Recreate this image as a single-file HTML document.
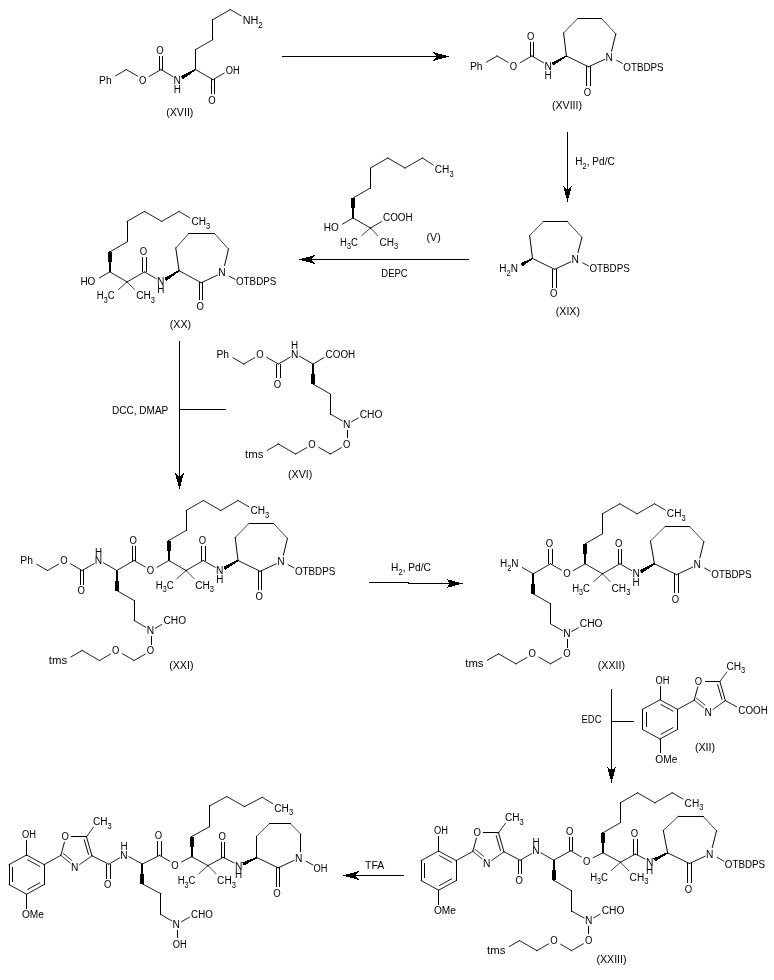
<!DOCTYPE html>
<html lang="en"><head><meta charset="utf-8"><title>Reaction scheme</title>
<style>
html,body{margin:0;padding:0;background:#fff}
body{width:774px;height:980px;overflow:hidden}
svg{display:block}
.b{stroke:#000;fill:none;stroke-linecap:square;shape-rendering:crispEdges}
.w{fill:#000;stroke:none;shape-rendering:crispEdges}
text{font-family:"Liberation Sans",sans-serif;font-size:11px;fill:#000}
.t{filter:grayscale(1)}
.s{font-size:8.2px}
</style></head>
<body>
<svg width="774" height="980" viewBox="0 0 774 980">
<rect width="774" height="980" fill="#fff"/>
<g class="b">
<path stroke-width="0.71" d="M370.42 228L377.86 235.6M127.12 281.9L134.52 289.46M186.08 570.5L194.01 578.6M602.48 573.8L610.02 581.5M650.44 541L665.04 526.6M620.5 862.3L628.43 870.4M208 865.6L215.93 873.7M290.2 823.6L300.9 834.3"/>
<path stroke-width="0.72" d="M563.6 33L577.4 18.8M529.7 235.5L543.5 221.3M235.24 537.5L249.04 523.3M256.5 836.2L269.5 823.6"/>
<path stroke-width="0.73" d="M601.8 18.8L615.8 33.9M273.44 523.3L287.44 538.4M689.84 526.6L703.84 541.7M663.3 830.4L678.5 816.2"/>
<path stroke-width="0.74" d="M567.2 221.3L581.9 237.5M175.78 248.1L188.78 233.6M214.48 233.6L228.48 249M703 816.2L716.5 830.9"/>
<path stroke-width="0.75" d="M370.42 228L361.81 235.6M127.12 281.9L118.52 289.49M186.08 570.5L176.9 578.6M602.48 573.8L593.76 581.5M620.5 862.3L611.32 870.4M208 865.6L198.82 873.7"/>
<path stroke-width="0.78" d="M703.5 707.63L694.2 700.2M704.91 704.91L696.54 698.23M482.1 858.83L472.8 851.4M483.51 856.11L475.14 849.43M70.1 862.83L60.8 855.4M71.51 860.11L63.14 853.43"/>
<path stroke-width="0.81" d="M719.9 681.6L726.83 672M498.5 832.8L505.43 823.2M86.5 836.8L93.43 827.2"/>
<path stroke-width="0.82" d="M725.4 700.6L713.1 709.28M504 851.8L491.7 860.48M92 855.8L79.7 864.48"/>
<path stroke-width="0.84" d="M422.38 158L433.1 164.93M179.08 270.7L165.36 279.57"/>
<path stroke-width="0.85" d="M262.2 797.3L272.6 803.66"/>
<path stroke-width="0.86" d="M179.08 211.4L189.8 217.9M541 852.84L553.6 860.2M570.8 850.8L581.2 856.87M553.6 880.2L571.5 890.8M108.7 864.2L119.4 857.9M160.8 914.4L171.7 920.87"/>
<path stroke-width="0.87" d="M195.6 69.6L181.88 77.52M172.68 76.37L160.96 69.6M160.96 69.6L149.34 76.31M137.24 75.9L126.32 69.6M126.32 69.6L115.6 75.79M195.6 69.6L212.92 79.6M212.92 79.6L224.04 73.18M195.6 49.6L212.92 39.6M212.92 19.6L230.24 9.6M230.24 9.6L240.96 15.79M566.4 56L552.68 63.92M543.48 62.77L531.76 56"/>
<path stroke-width="0.87" d="M531.76 56L520.14 62.71M508.04 62.3L497.12 56M497.12 56L486.4 62.19M532.5 258.5L521.38 264.92M353.1 198L370.42 188M370.42 168L387.74 158M387.74 158L405.06 168M405.06 168L422.38 158M353.1 218L342.58 224.07M353.1 218L370.42 228M370.42 228L381.34 221.7M109.8 251.9L127.12 241.9"/>
<path stroke-width="0.87" d="M127.12 221.4L144.44 211.4M144.44 211.4L161.76 221.4M161.76 221.4L179.08 211.4M109.8 271.9L99.28 277.97M109.8 271.9L127.12 281.9M127.12 281.9L144.44 271.9M144.44 271.9L156.16 278.67M313 364L299.68 356.31M290.08 357.23L278.36 364M278.36 364L266.74 357.29M254.64 357.7L243.72 364M243.72 364L233 357.81"/>
<path stroke-width="0.87" d="M313 364L323.92 357.7M313 384L330.32 394M330.32 414L342.04 420.77M351.64 421.69L357.96 418.04M341.24 447.7L330.32 454M330.32 454L318.7 447.29M306.6 447.7L295.68 454M295.68 454L278.36 444M278.36 444L267.24 450.42M116.8 570.5L103.48 562.81M93.88 563.73L82.16 570.5M82.16 570.5L70.54 563.79"/>
<path stroke-width="0.87" d="M58.44 564.2L47.52 570.5M47.52 570.5L36.8 564.31M116.8 570.5L134.12 560.5M134.12 560.5L145.04 566.8M157.14 567.21L168.76 560.5M168.76 540.5L186.08 530.5M186.08 510.5L203.4 500.5M203.4 500.5L220.72 510.5M220.72 510.5L238.04 500.5M238.04 500.5L248.76 506.69M168.76 560.5L186.08 570.5M186.08 570.5L203.4 560.5"/>
<path stroke-width="0.87" d="M203.4 560.5L215.12 567.27M238.04 560.5L224.32 568.42M116.8 590.5L134.12 600.5M134.12 620.5L145.84 627.27M155.44 628.19L161.76 624.54M145.04 654.2L134.12 660.5M134.12 660.5L122.5 653.79M110.4 654.2L99.48 660.5M99.48 660.5L82.16 650.5M82.16 650.5L71.04 656.92M533.2 573.8L522.48 567.61M533.2 573.8L550.52 563.8"/>
<path stroke-width="0.87" d="M550.52 563.8L561.44 570.1M573.54 570.51L585.16 563.8M585.16 543.8L602.48 533.8M602.48 513.8L619.8 503.8M619.8 503.8L637.12 513.8M637.12 513.8L654.44 503.8M654.44 503.8L665.16 509.99M585.16 563.8L602.48 573.8M602.48 573.8L619.8 563.8M619.8 563.8L631.52 570.57M654.44 563.8L640.72 571.72M533.2 593.8L550.52 603.8"/>
<path stroke-width="0.87" d="M550.52 623.8L562.24 630.57M571.84 631.49L578.16 627.84M561.44 657.5L550.52 663.8M550.52 663.8L538.9 657.09M526.8 657.5L515.88 663.8M515.88 663.8L498.56 653.8M498.56 653.8L487.44 660.22M520.2 860.2L531.4 853.73M602.9 832.8L620.22 822.8M620.22 802.8L637.54 792.8M637.54 792.8L654.86 802.8M654.86 802.8L672.18 792.8"/>
<path stroke-width="0.87" d="M672.18 792.8L682.9 798.99M620.5 862.3L635.4 854M717.2 857.38L723.7 861.06M593.7 917.83L600.02 914.18M583.3 943.83L571.58 950.6M571.58 950.6L560.76 944.35M548.66 943.83L536.94 950.6M536.94 950.6L519.62 940.6M519.62 940.6L509.3 946.56M159.5 855.4L169.6 861.15M226.8 796.5L244.5 806.6M181.3 921.89L189.42 917.2"/>
<path stroke-width="0.88" d="M616.7 60.35L622.2 63.36M582.8 262.85L588.3 265.86M201.18 282.7L179.08 270.7M229.38 276.25L234.88 279.26M288.34 564.85L293.84 567.86M704.74 568.15L710.24 571.16M660 699.8L677.55 709.4M661.03 704.58L672.97 711.11M677.55 729.4L660 739M672.97 727.69L661.03 734.22M660 739L642.45 729.4M642.45 709.4L660 699.8"/>
<path stroke-width="0.88" d="M677.55 709.4L694.2 700.2M725.4 700.6L736.6 706.77M438.6 851L456.15 860.6M439.63 855.78L451.57 862.31M456.15 880.6L438.6 890.2M451.57 878.89L439.63 885.42M438.6 890.2L421.05 880.6M421.05 860.6L438.6 851M456.15 860.6L472.8 851.4M553.6 860.2L570.8 850.8M602.9 852.8L620.5 862.3M667.6 852.8L654.2 859.89"/>
<path stroke-width="0.88" d="M571.5 911L584.1 917.95M26.6 855L44.15 864.6M27.63 859.78L39.57 866.31M44.15 884.6L26.6 894.2M39.57 882.89L27.63 889.42M26.6 894.2L9.05 884.6M9.05 864.6L26.6 855M44.15 864.6L60.8 855.4M129 856.76L142.4 864M191.7 836.5L209.6 826.7M209.6 805.9L226.8 796.5M191.7 856.7L208 865.6"/>
<path stroke-width="0.88" d="M208 865.6L223.2 857.4M306.2 861.33L312.9 864.97M142.4 883.9L160.8 893.7"/>
<path stroke-width="0.89" d="M504 851.8L520.2 860.2M593.3 857.69L602.9 852.8M635.4 854L645 858.93M92 855.8L108.7 864.2M142.4 864L159.5 855.4M181.7 861.86L191.7 856.7M244.5 806.6L262.2 797.3M223.2 857.4L234 862.87"/>
<path stroke-width="0.9" d="M588.5 66.8L566.4 56M554.6 269.3L532.5 258.5M260.14 571.3L238.04 560.5M676.54 574.6L654.44 563.8M689.5 863.5L667.6 852.8M278.2 867.8L256.9 857.6"/>
<path stroke-width="0.91" d="M604.6 59.38L588.5 66.8M570.7 261.88L554.6 269.3M217.28 275.28L201.18 282.7M276.24 563.88L260.14 571.3M692.64 567.18L676.54 574.6M705.1 856.29L689.5 863.5M256.9 857.6L243.2 864.01M294.1 860.4L278.2 867.8"/>
<path stroke-width="0.96" d="M694.2 700.2L697.79 687.2M719.9 681.6L725.4 700.6M717.68 684.71L721.86 699.15M472.8 851.4L476.39 838.4M498.5 832.8L504 851.8M496.28 835.91L500.46 850.35M60.8 855.4L64.39 842.4M86.5 836.8L92 855.8M84.28 839.91L88.46 854.35"/>
<path stroke-width="0.97" d="M615.8 33.9L611.59 51.1M581.9 237.5L578 252.7M228.48 249L224.58 265.5M287.44 538.4L283.36 555.1M703.84 541.7L699.85 558M716.5 830.9L712.28 847.5"/>
<path stroke-width="0.98" d="M654.44 563.8L650.44 541M667.6 852.8L663.3 830.4"/>
<path stroke-width="0.99" d="M566.4 56L563.6 33M532.5 258.5L529.7 235.5M179.08 270.7L175.78 248.1M238.04 560.5L235.24 537.5"/>
<path stroke-width="1" d="M159.21 69.6L159.21 56.3M162.71 69.6L162.71 56.3M214.67 79.6L214.67 93.9M211.17 79.6L211.17 93.9M195.6 69.6L195.6 49.6M212.92 39.6L212.92 19.6M530.01 56L530.01 42.7M533.51 56L533.51 42.7M577.4 18.8L601.8 18.8M590.25 66.8L590.25 85.5M586.75 66.8L586.75 85.5M543.5 221.3L567.2 221.3"/>
<path stroke-width="1" d="M556.35 269.3L556.35 287.1M552.85 269.3L552.85 287.1M353.1 218L353.1 198M370.42 188L370.42 168M109.8 271.9L109.8 251.9M127.12 241.9L127.12 221.4M142.69 271.9L142.69 257.1M146.19 271.9L146.19 257.1M188.78 233.6L214.48 233.6M202.93 282.7L202.93 299.9M199.43 282.7L199.43 299.9M280.11 364L280.11 377.8"/>
<path stroke-width="1" d="M276.61 364L276.61 377.8M313 364L313 384M330.32 394L330.32 414M347.64 430.2L347.64 437.8M83.91 570.5L83.91 584.3M80.41 570.5L80.41 584.3M132.37 560.5L132.37 546.7M135.87 560.5L135.87 546.7M168.76 560.5L168.76 540.5M186.08 530.5L186.08 510.5M201.65 560.5L201.65 546.7M205.15 560.5L205.15 546.7"/>
<path stroke-width="1" d="M249.04 523.3L273.44 523.3M261.89 571.3L261.89 589.5M258.39 571.3L258.39 589.5M116.8 570.5L116.8 590.5M134.12 600.5L134.12 620.5M151.44 636.7L151.44 644.3M548.77 563.8L548.77 549.6M552.27 563.8L552.27 549.6M585.16 563.8L585.16 543.8M602.48 533.8L602.48 513.8M618.05 563.8L618.05 549.6M621.55 563.8L621.55 549.6"/>
<path stroke-width="1" d="M665.04 526.6L689.84 526.6M678.29 574.6L678.29 592.4M674.79 574.6L674.79 592.4M533.2 573.8L533.2 593.8M550.52 603.8L550.52 623.8M567.84 639.6L567.84 647.2M677.55 709.4L677.55 729.4M642.45 729.4L642.45 709.4M646.15 726.2L646.15 712.6M660 699.8L660 686M660 739L660 752.8M705.2 681.17L719.9 681.6"/>
<path stroke-width="1" d="M456.15 860.6L456.15 880.6M421.05 880.6L421.05 860.6M424.75 877.4L424.75 863.8M438.6 851L438.6 836.4M438.6 890.2L438.6 904M483.8 832.37L498.5 832.8M521.95 860.2L521.95 873.6M518.45 860.2L518.45 873.6M569.05 850.8L569.05 837M572.55 850.8L572.55 837M602.9 852.8L602.9 832.8M620.22 822.8L620.22 802.8"/>
<path stroke-width="1" d="M633.65 854L633.65 839.2M637.15 854L637.15 839.2M678.5 816.2L703 816.2M691.25 863.5L691.25 882.6M687.75 863.5L687.75 882.6M553.6 860.2L553.6 880.2M571.5 890.8L571.5 911M588.9 926L588.9 933.6M44.15 864.6L44.15 884.6M9.05 884.6L9.05 864.6M12.75 881.4L12.75 867.8M26.6 855L26.6 840.2"/>
<path stroke-width="1" d="M26.6 894.2L26.6 908M71.8 836.37L86.5 836.8M110.45 864.2L110.45 878M106.95 864.2L106.95 878M157.75 855.4L157.75 841.4M161.25 855.4L161.25 841.4M191.7 856.7L191.7 836.5M209.6 826.7L209.6 805.9M221.45 857.4L221.45 842.4M224.95 857.4L224.95 842.4M256.9 857.6L256.5 836.2M269.5 823.6L290.2 823.6"/>
<path stroke-width="1" d="M300.9 834.3L300.02 851.6M279.95 867.81L279.8 886.81M276.45 867.79L276.3 886.79M142.4 864L142.4 883.9M160.8 893.7L160.8 914.4M177.3 930.4L177.3 937.8M282.9 56.5L446.4 56.5M567.5 132.9L567.5 199M468 259.5L301.7 259.5M179.5 341.4L179.5 486.4M179.5 409.5L225 409.5M408 583.5L459.7 583.5"/>
<path stroke-width="1" d="M369.3 582.5L408.5 582.5M611.5 689L611.5 779.9M611.5 721.5L633.8 721.5M403.7 875.5L345.7 875.5"/>
</g>
<g class="w">
<polygon points="195.25,68.99 181,76.01 182.76,79.04 195.95,70.21"/>
<polygon points="566.05,55.39 551.8,62.41 553.56,65.44 566.75,56.61"/>
<polygon points="532.15,257.89 520.5,263.4 522.26,266.44 532.85,259.11"/>
<polygon points="354.1,218 354.1,208 355.1,208 355.1,198 351.1,198 351.1,208 352.1,208 352.1,218"/>
<polygon points="110.8,271.9 110.8,261.9 111.8,261.9 111.8,251.9 107.8,251.9 107.8,261.9 108.8,261.9 108.8,271.9"/>
<polygon points="178.7,270.11 164.41,278.1 166.31,281.04 179.46,271.29"/>
<polygon points="312,364 312,374 311,374 311,384 315,384 315,374 314,374 314,364"/>
<polygon points="169.76,560.5 169.76,550.5 170.76,550.5 170.76,540.5 166.76,540.5 166.76,550.5 167.76,550.5 167.76,560.5"/>
<polygon points="237.69,559.89 223.44,566.91 225.2,569.94 238.39,561.11"/>
<polygon points="115.8,570.5 115.8,580.5 114.8,580.5 114.8,590.5 118.8,590.5 118.8,580.5 117.8,580.5 117.8,570.5"/>
<polygon points="586.16,563.8 586.16,553.8 587.16,553.8 587.16,543.8 583.16,543.8 583.16,553.8 584.16,553.8 584.16,563.8"/>
<polygon points="654.09,563.19 639.84,570.21 641.6,573.24 654.79,564.41"/>
<polygon points="532.2,573.8 532.2,583.8 531.2,583.8 531.2,593.8 535.2,593.8 535.2,583.8 534.2,583.8 534.2,573.8"/>
<polygon points="603.9,852.8 603.9,842.8 604.9,842.8 604.9,832.8 600.9,832.8 600.9,842.8 601.9,842.8 601.9,852.8"/>
<polygon points="667.27,852.18 653.38,858.35 655.02,861.44 667.93,853.42"/>
<polygon points="552.6,860.2 552.6,870.2 551.6,870.2 551.6,880.2 555.6,880.2 555.6,870.2 554.6,870.2 554.6,860.2"/>
<polygon points="192.7,856.7 192.7,846.6 193.7,846.6 193.7,836.5 189.7,836.5 189.7,846.6 190.7,846.6 190.7,856.7"/>
<polygon points="256.6,856.97 242.46,862.43 243.94,865.6 257.2,858.23"/>
<polygon points="141.4,864 141.4,873.95 140.4,873.95 140.4,883.9 144.4,883.9 144.4,873.95 143.4,873.95 143.4,864"/>
<polygon points="449.4,56.5 433,61 436.8,56.5 433,52"/>
<polygon points="567.5,202 563,185.6 567.5,189.4 572,185.6"/>
<polygon points="298.7,259.5 315.1,255 311.3,259.5 315.1,264"/>
<polygon points="179.5,489.4 175,473 179.5,476.8 184,473"/>
<polygon points="462.7,583.5 446.3,588 450.1,583.5 446.3,579"/>
<polygon points="611.5,782.9 607,766.5 611.5,770.3 616,766.5"/>
<polygon points="342.7,875.5 359.1,871 355.3,875.5 359.1,880"/>
</g>
<g class="t">
<text transform="translate(173.58 84) scale(0.932 1)">N</text>
<text transform="translate(173.71 92.6) scale(0.900 1)">H</text>
<text transform="translate(138.94 84) scale(0.865 1)">O</text>
<text transform="translate(156.26 54) scale(0.865 1)">O</text>
<text transform="translate(99.1 84) scale(0.936 1)">Ph</text>
<text transform="translate(208.22 104) scale(0.865 1)">O</text>
<text transform="translate(225.74 74) scale(0.848 1)">OH</text>
<text transform="translate(242.66 24) scale(0.988 1)">NH<tspan class="s" dy="3.7">2</tspan></text>
<text transform="translate(166.17 115.9) scale(0.970 1)">(XVII)</text>
<text transform="translate(544.38 70.4) scale(0.932 1)">N</text>
<text transform="translate(544.51 79) scale(0.900 1)">H</text>
<text transform="translate(509.74 70.4) scale(0.865 1)">O</text>
<text transform="translate(527.06 40.4) scale(0.865 1)">O</text>
<text transform="translate(469.9 70.4) scale(0.936 1)">Ph</text>
<text transform="translate(605.5 61.2) scale(0.932 1)">N</text>
<text transform="translate(583.8 95.6) scale(0.865 1)">O</text>
<text transform="translate(623.3 70.6) scale(0.893 1)">OTBDPS</text>
<text transform="translate(551.88 108.9) scale(0.970 1)">(XVIII)</text>
<text transform="translate(499.28 272) scale(0.910 1)">H<tspan class="s" dy="3.7">2</tspan><tspan dy="-3.7">N</tspan></text>
<text transform="translate(571.6 262.8) scale(0.932 1)">N</text>
<text transform="translate(549.9 297.2) scale(0.865 1)">O</text>
<text transform="translate(589.4 272.2) scale(0.893 1)">OTBDPS</text>
<text transform="translate(555.75 314.9) scale(0.970 1)">(XIX)</text>
<text transform="translate(434.8 173.4) scale(0.919 1)">CH<tspan class="s" dy="3.7">3</tspan></text>
<text transform="translate(323.68 231.4) scale(0.909 1)">HO</text>
<text transform="translate(340.12 245.7) scale(0.871 1)">H<tspan class="s" dy="3.7">3</tspan><tspan dy="-3.7">C</tspan></text>
<text transform="translate(379.52 245.7) scale(0.919 1)">CH<tspan class="s" dy="3.7">3</tspan></text>
<text transform="translate(383.04 221.4) scale(0.897 1)">COOH</text>
<text transform="translate(426.49 241.3) scale(0.970 1)">(V)</text>
<text transform="translate(191.5 224.8) scale(0.919 1)">CH<tspan class="s" dy="3.7">3</tspan></text>
<text transform="translate(80.38 284.8) scale(0.909 1)">HO</text>
<text transform="translate(96.82 299.1) scale(0.871 1)">H<tspan class="s" dy="3.7">3</tspan><tspan dy="-3.7">C</tspan></text>
<text transform="translate(136.22 299.1) scale(0.919 1)">CH<tspan class="s" dy="3.7">3</tspan></text>
<text transform="translate(139.74 254.8) scale(0.865 1)">O</text>
<text transform="translate(157.06 284.8) scale(0.932 1)">N</text>
<text transform="translate(157.19 293.4) scale(0.900 1)">H</text>
<text transform="translate(218.18 275.6) scale(0.932 1)">N</text>
<text transform="translate(196.48 310) scale(0.865 1)">O</text>
<text transform="translate(235.98 285) scale(0.893 1)">OTBDPS</text>
<text transform="translate(169.73 327.7) scale(0.970 1)">(XX)</text>
<text transform="translate(290.98 357.9) scale(0.932 1)">N</text>
<text transform="translate(291.11 349.3) scale(0.900 1)">H</text>
<text transform="translate(256.34 357.9) scale(0.865 1)">O</text>
<text transform="translate(273.66 387.9) scale(0.865 1)">O</text>
<text transform="translate(216.5 357.9) scale(0.936 1)">Ph</text>
<text transform="translate(325.62 357.9) scale(0.897 1)">COOH</text>
<text transform="translate(342.94 427.9) scale(0.932 1)">N</text>
<text transform="translate(359.66 417.9) scale(0.929 1)">CHO</text>
<text transform="translate(342.94 447.9) scale(0.865 1)">O</text>
<text transform="translate(308.3 447.9) scale(0.865 1)">O</text>
<text transform="translate(245.04 457.9) scale(1.033 1)">tms</text>
<text transform="translate(288.05 477.5) scale(0.970 1)">(XVI)</text>
<text transform="translate(94.78 564.4) scale(0.932 1)">N</text>
<text transform="translate(94.91 555.8) scale(0.900 1)">H</text>
<text transform="translate(60.14 564.4) scale(0.865 1)">O</text>
<text transform="translate(77.46 594.4) scale(0.865 1)">O</text>
<text transform="translate(20.3 564.4) scale(0.936 1)">Ph</text>
<text transform="translate(129.42 544.4) scale(0.865 1)">O</text>
<text transform="translate(146.74 574.4) scale(0.865 1)">O</text>
<text transform="translate(250.46 514.4) scale(0.919 1)">CH<tspan class="s" dy="3.7">3</tspan></text>
<text transform="translate(155.78 588.7) scale(0.871 1)">H<tspan class="s" dy="3.7">3</tspan><tspan dy="-3.7">C</tspan></text>
<text transform="translate(195.18 588.7) scale(0.919 1)">CH<tspan class="s" dy="3.7">3</tspan></text>
<text transform="translate(198.7 544.4) scale(0.865 1)">O</text>
<text transform="translate(216.02 574.4) scale(0.932 1)">N</text>
<text transform="translate(216.15 583) scale(0.900 1)">H</text>
<text transform="translate(277.14 565.2) scale(0.932 1)">N</text>
<text transform="translate(255.44 599.6) scale(0.865 1)">O</text>
<text transform="translate(294.94 574.6) scale(0.893 1)">OTBDPS</text>
<text transform="translate(146.74 634.4) scale(0.932 1)">N</text>
<text transform="translate(163.46 624.4) scale(0.929 1)">CHO</text>
<text transform="translate(146.74 654.4) scale(0.865 1)">O</text>
<text transform="translate(112.1 654.4) scale(0.865 1)">O</text>
<text transform="translate(48.84 664.4) scale(1.033 1)">tms</text>
<text transform="translate(169.15 668.6) scale(0.970 1)">(XXI)</text>
<text transform="translate(499.98 567.3) scale(0.910 1)">H<tspan class="s" dy="3.7">2</tspan><tspan dy="-3.7">N</tspan></text>
<text transform="translate(545.82 547.3) scale(0.865 1)">O</text>
<text transform="translate(563.14 577.3) scale(0.865 1)">O</text>
<text transform="translate(666.86 517.3) scale(0.919 1)">CH<tspan class="s" dy="3.7">3</tspan></text>
<text transform="translate(572.18 591.6) scale(0.871 1)">H<tspan class="s" dy="3.7">3</tspan><tspan dy="-3.7">C</tspan></text>
<text transform="translate(611.58 591.6) scale(0.919 1)">CH<tspan class="s" dy="3.7">3</tspan></text>
<text transform="translate(615.1 547.3) scale(0.865 1)">O</text>
<text transform="translate(632.42 577.3) scale(0.932 1)">N</text>
<text transform="translate(632.55 585.9) scale(0.900 1)">H</text>
<text transform="translate(693.54 568.1) scale(0.932 1)">N</text>
<text transform="translate(671.84 602.5) scale(0.865 1)">O</text>
<text transform="translate(711.34 577.5) scale(0.893 1)">OTBDPS</text>
<text transform="translate(563.14 637.3) scale(0.932 1)">N</text>
<text transform="translate(579.86 627.3) scale(0.929 1)">CHO</text>
<text transform="translate(563.14 657.3) scale(0.865 1)">O</text>
<text transform="translate(528.5 657.3) scale(0.865 1)">O</text>
<text transform="translate(465.24 667.3) scale(1.033 1)">tms</text>
<text transform="translate(597.77 668.6) scale(0.970 1)">(XXII)</text>
<text transform="translate(655.5 683.7) scale(0.848 1)">OH</text>
<text transform="translate(655.3 762.9) scale(0.923 1)">OMe</text>
<text transform="translate(694.8 684.9) scale(0.865 1)">O</text>
<text transform="translate(704.4 716) scale(0.932 1)">N</text>
<text transform="translate(726.4 669.7) scale(0.919 1)">CH<tspan class="s" dy="3.7">3</tspan></text>
<text transform="translate(738.3 714.2) scale(0.897 1)">COOH</text>
<text transform="translate(694.92 750.6) scale(0.970 1)">(XII)</text>
<text transform="translate(434.1 834.1) scale(0.848 1)">OH</text>
<text transform="translate(433.9 914.1) scale(0.923 1)">OMe</text>
<text transform="translate(473.4 836.1) scale(0.865 1)">O</text>
<text transform="translate(483 867.2) scale(0.932 1)">N</text>
<text transform="translate(505 820.9) scale(0.919 1)">CH<tspan class="s" dy="3.7">3</tspan></text>
<text transform="translate(515.5 883.7) scale(0.865 1)">O</text>
<text transform="translate(532.3 854.4) scale(0.932 1)">N</text>
<text transform="translate(532.43 845.8) scale(0.900 1)">H</text>
<text transform="translate(566.1 834.7) scale(0.865 1)">O</text>
<text transform="translate(582.9 864.5) scale(0.865 1)">O</text>
<text transform="translate(684.6 806.7) scale(0.919 1)">CH<tspan class="s" dy="3.7">3</tspan></text>
<text transform="translate(590.2 880.5) scale(0.871 1)">H<tspan class="s" dy="3.7">3</tspan><tspan dy="-3.7">C</tspan></text>
<text transform="translate(629.6 880.5) scale(0.919 1)">CH<tspan class="s" dy="3.7">3</tspan></text>
<text transform="translate(630.7 836.9) scale(0.865 1)">O</text>
<text transform="translate(645.9 865.7) scale(0.932 1)">N</text>
<text transform="translate(646.03 874.3) scale(0.900 1)">H</text>
<text transform="translate(706 857.6) scale(0.932 1)">N</text>
<text transform="translate(684.8 892.7) scale(0.865 1)">O</text>
<text transform="translate(724.8 867.9) scale(0.893 1)">OTBDPS</text>
<text transform="translate(585 923.7) scale(0.932 1)">N</text>
<text transform="translate(601.72 913.7) scale(0.929 1)">CHO</text>
<text transform="translate(585 943.7) scale(0.865 1)">O</text>
<text transform="translate(550.36 943.7) scale(0.865 1)">O</text>
<text transform="translate(487.1 953.7) scale(1.033 1)">tms</text>
<text transform="translate(596.38 962.9) scale(0.970 1)">(XXIII)</text>
<text transform="translate(22.1 837.9) scale(0.848 1)">OH</text>
<text transform="translate(21.9 918.1) scale(0.923 1)">OMe</text>
<text transform="translate(61.4 840.1) scale(0.865 1)">O</text>
<text transform="translate(71 871.2) scale(0.932 1)">N</text>
<text transform="translate(93 824.9) scale(0.919 1)">CH<tspan class="s" dy="3.7">3</tspan></text>
<text transform="translate(104 888.1) scale(0.865 1)">O</text>
<text transform="translate(120.3 858.5) scale(0.932 1)">N</text>
<text transform="translate(120.43 849.9) scale(0.900 1)">H</text>
<text transform="translate(154.8 839.1) scale(0.865 1)">O</text>
<text transform="translate(171.3 868.7) scale(0.865 1)">O</text>
<text transform="translate(274.3 811.6) scale(0.919 1)">CH<tspan class="s" dy="3.7">3</tspan></text>
<text transform="translate(177.7 883.8) scale(0.871 1)">H<tspan class="s" dy="3.7">3</tspan><tspan dy="-3.7">C</tspan></text>
<text transform="translate(217.1 883.8) scale(0.919 1)">CH<tspan class="s" dy="3.7">3</tspan></text>
<text transform="translate(218.5 840.1) scale(0.865 1)">O</text>
<text transform="translate(234.9 869.6) scale(0.932 1)">N</text>
<text transform="translate(235.03 878.2) scale(0.900 1)">H</text>
<text transform="translate(295 861.7) scale(0.932 1)">N</text>
<text transform="translate(273.3 896.9) scale(0.865 1)">O</text>
<text transform="translate(313.6 871.7) scale(0.848 1)">OH</text>
<text transform="translate(172.6 928.1) scale(0.932 1)">N</text>
<text transform="translate(191.12 918.1) scale(0.888 1)">CHO</text>
<text transform="translate(172.8 947.9) scale(0.848 1)">OH</text>
<text transform="translate(575.3 165.1) scale(0.915 1)">H<tspan class="s" dy="3.7">2</tspan><tspan dy="-3.7">, Pd/C</tspan></text>
<text transform="translate(381.3 277.2) scale(0.861 1)">DEPC</text>
<text transform="translate(112 414.1) scale(0.914 1)">DCC, DMAP</text>
<text transform="translate(391.1 571) scale(0.924 1)">H<tspan class="s" dy="3.7">2</tspan><tspan dy="-3.7">, Pd/C</tspan></text>
<text transform="translate(581.6 723.2) scale(0.853 1)">EDC</text>
<text transform="translate(365.1 869.1) scale(0.952 1)">TFA</text>
</g>
</svg>
</body></html>
